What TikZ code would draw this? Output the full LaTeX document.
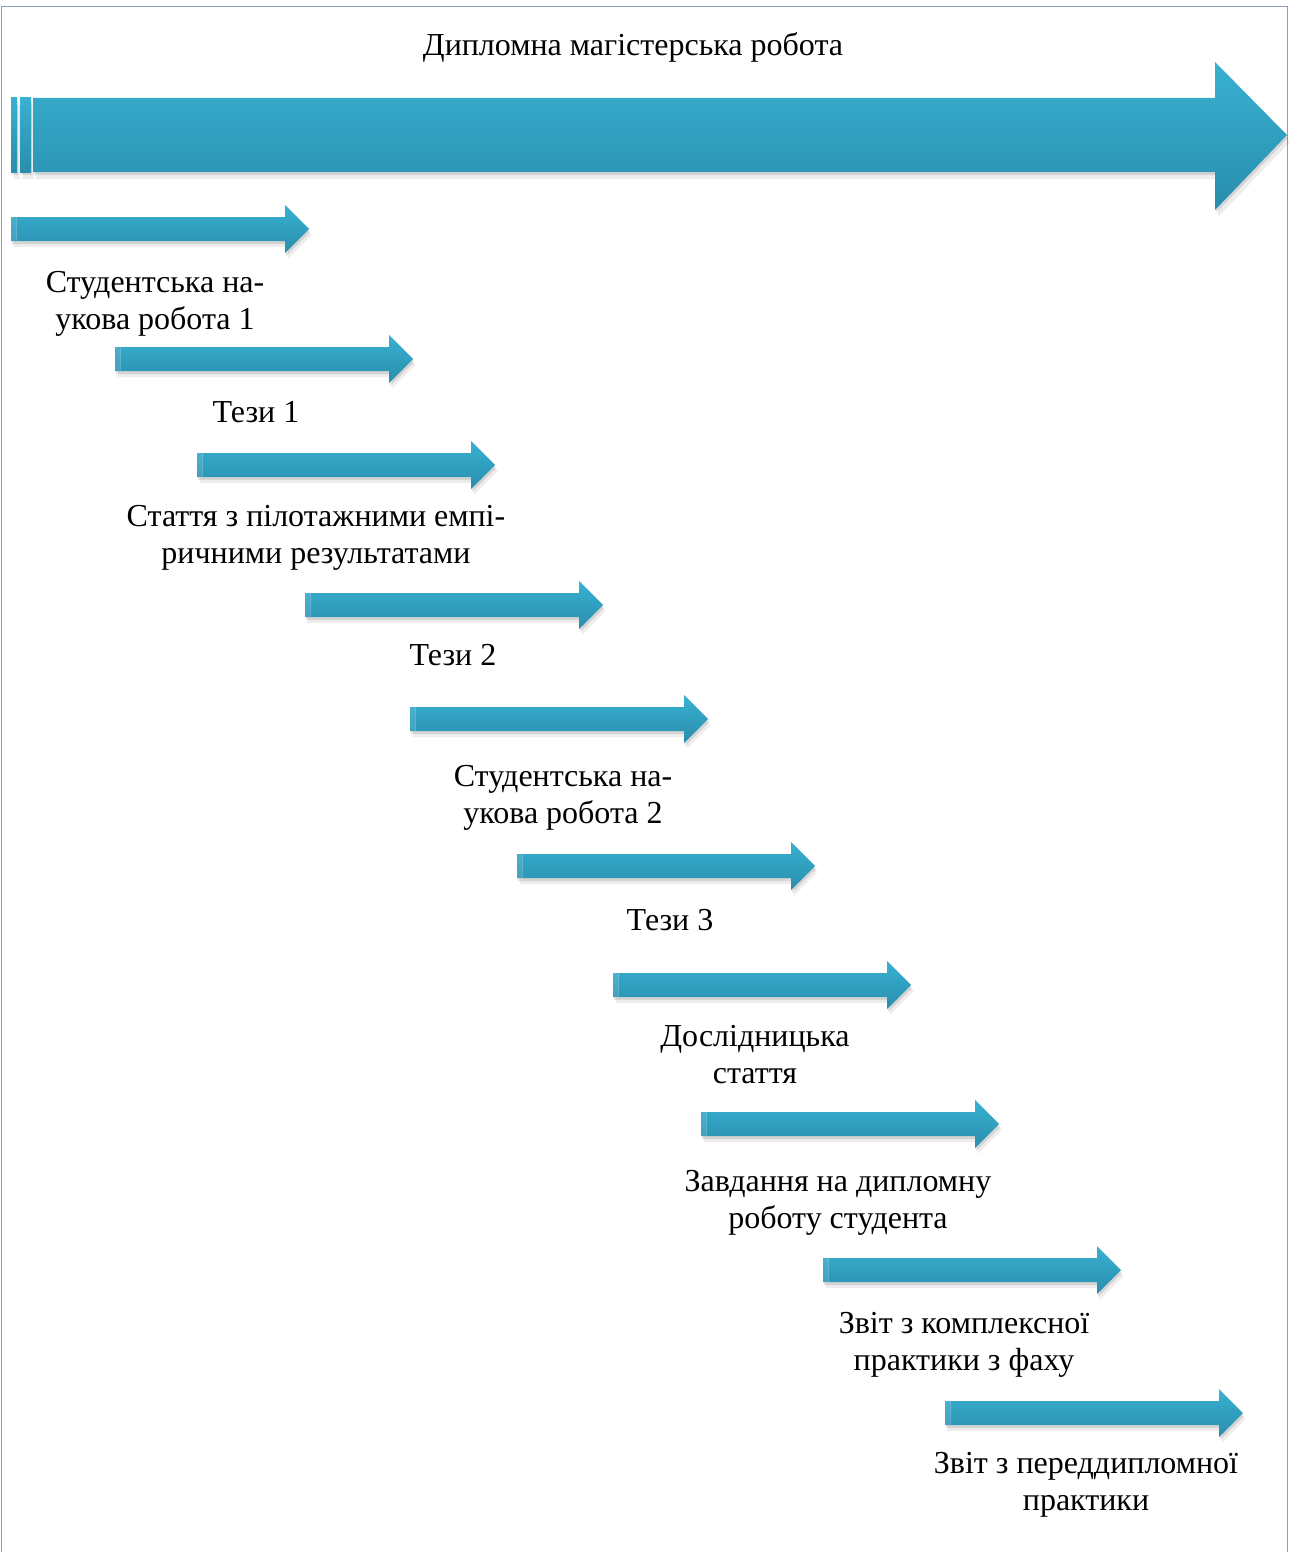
\documentclass[tikz,border=0pt]{standalone}
\usepackage{fontspec}
\setmainfont{Liberation Serif}
\definecolor{arrtop}{RGB}{57,177,209}
\definecolor{arrbot}{RGB}{41,141,173}
\definecolor{framecol}{RGB}{140,158,186}
\tikzset{
  lbl/.style={font=\fontsize{32}{37}\selectfont, align=center, inner sep=0pt, anchor=base, text=black},
  arrshade/.style={top color=arrtop, bottom color=arrbot, draw=none},
  smallarrow/.pic={
    \begin{scope}[shift={(2.5,6)}]
      \fill[black,opacity=.07] (0,-12) -- (274,-12) -- (274,-24) -- (298,0) -- (274,24) -- (274,12) -- (0,12) -- cycle;
    \end{scope}
    \begin{scope}[shift={(1,3)}]
      \fill[black,opacity=.10] (0,-12) -- (274,-12) -- (274,-24) -- (298,0) -- (274,24) -- (274,12) -- (0,12) -- cycle;
    \end{scope}
    \shade[arrshade] (0,-12) -- (274,-12) -- (274,-24) -- (298,0) -- (274,24) -- (274,12) -- (0,12) -- cycle;
    \fill[white,opacity=.10] (0,-12) rectangle (5,12);
    \draw[white,opacity=.22,line width=.8pt] (5,-12) -- (5,12);
  }
}
\begin{document}
\begin{tikzpicture}[x=1pt,y=-1pt]
\useasboundingbox (0,0) rectangle (1289,1552);
\fill[white] (0,0) rectangle (1289,1552);
\draw[framecol,line width=1.2pt] (1.5,1552) -- (1.5,6.5) -- (1287.5,6.5) -- (1287.5,1552);

% big arrow
\begin{scope}[shift={(3,7)}]
  \fill[black,opacity=.07] (33,98) -- (1215,98) -- (1215,62) -- (1287,135) -- (1215,210) -- (1215,172) -- (33,172) -- cycle;
  \fill[black,opacity=.07] (11,98) rectangle (17,172) (20,98) rectangle (31,172);
\end{scope}
\begin{scope}[shift={(1,3)}]
  \fill[black,opacity=.10] (33,98) -- (1215,98) -- (1215,62) -- (1287,135) -- (1215,210) -- (1215,172) -- (33,172) -- cycle;
  \fill[black,opacity=.10] (11,98) rectangle (17,172) (20,98) rectangle (31,172);
\end{scope}
\shade[arrshade] (33,98) -- (1215,98) -- (1215,62) -- (1287,135) -- (1215,210) -- (1215,172) -- (33,172) -- cycle;
\shade[arrshade] (11,98) rectangle (17,172);
\shade[arrshade] (20,98) rectangle (31,172);

\node[lbl] (title) at (633,56) {Дипломна магістерська робота};

% small arrows
\pic at (11,229) {smallarrow};
\pic at (115,359) {smallarrow};
\pic at (197,465) {smallarrow};
\pic at (305,605) {smallarrow};
\pic at (410,719) {smallarrow};
\pic at (517,866) {smallarrow};
\pic at (613,985) {smallarrow};
\pic at (701,1124) {smallarrow};
\pic at (823,1270) {smallarrow};
\pic at (945,1413) {smallarrow};

% labels (base anchor = baseline of the last line)
\node[lbl] (l1) at (155,329) {Студентська на-\\укова робота 1};
\node[lbl] (l2) at (256,422) {Тези 1};
\node[lbl] (l3) at (316,563) {Стаття з пілотажними емпі-\\ричними результатами};
\node[lbl] (l4) at (453,665) {Тези 2};
\node[lbl] (l5) at (563,823) {Студентська на-\\укова робота 2};
\node[lbl] (l6) at (670,930) {Тези 3};
\node[lbl] (l7) at (755,1083) {Дослідницька\\стаття};
\node[lbl] (l8) at (838,1228) {Завдання на дипломну\\роботу студента};
\node[lbl] (l9) at (964,1370) {Звіт з комплексної\\практики з фаху};
\node[lbl] (l10) at (1086,1510) {Звіт з переддипломної\\практики};
\end{tikzpicture}
\end{document}
